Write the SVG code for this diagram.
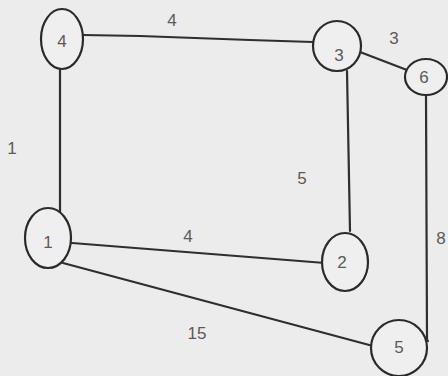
<svg xmlns="http://www.w3.org/2000/svg" width="448" height="376" viewBox="0 0 448 376">
  <style>
    .edge { fill: none; stroke: #2e2e2e; stroke-width: 2.2; stroke-linecap: round; }
    .node ellipse { fill: #efefef; stroke: #2a2a2a; stroke-width: 2.2; }
    .node text, .weight { font-family: "Liberation Sans", Arial, sans-serif; font-size: 17px; fill: #5a5a5a; text-anchor: middle; dominant-baseline: central; }
  </style>
  <rect width="448" height="376" fill="#ececec"/>

  <g id="connectors">
    <polyline class="edge" points="83,35 140,36 250,40 313,42"/>
    <line class="edge" x1="60" y1="70" x2="60" y2="219"/>
    <line class="edge" x1="347" y1="71" x2="350" y2="231"/>
    <line class="edge" x1="360" y1="52" x2="407" y2="70"/>
    <polyline class="edge" points="426,95 427,340 428,341"/>
    <line class="edge" x1="72" y1="243" x2="325" y2="263"/>
    <line class="edge" x1="63" y1="263" x2="373" y2="346"/>
  </g>

  <g id="weights">
    <text class="weight" x="172" y="20">4</text>
    <text class="weight" x="394" y="38">3</text>
    <text class="weight" x="12" y="148">1</text>
    <text class="weight" x="302" y="178">5</text>
    <text class="weight" x="441" y="238">8</text>
    <text class="weight" x="188" y="236">4</text>
    <text class="weight" x="197" y="333">15</text>
  </g>

  <g id="node-4" class="node">
    <ellipse cx="62" cy="39" rx="21" ry="30"/>
    <text x="62" y="41">4</text>
  </g>
  <g id="node-3" class="node">
    <ellipse cx="337" cy="46" rx="24" ry="25"/>
    <text x="339" y="55">3</text>
  </g>
  <g id="node-6" class="node">
    <ellipse cx="426" cy="77" rx="21" ry="18"/>
    <text x="424" y="77">6</text>
  </g>
  <g id="node-1" class="node">
    <ellipse cx="48" cy="238" rx="23" ry="30"/>
    <text x="48" y="242">1</text>
  </g>
  <g id="node-2" class="node">
    <ellipse cx="345" cy="262" rx="23" ry="29"/>
    <text x="342" y="262">2</text>
  </g>
  <g id="node-5" class="node">
    <ellipse cx="399" cy="348" rx="28" ry="28"/>
    <text x="399" y="347">5</text>
  </g>
</svg>
